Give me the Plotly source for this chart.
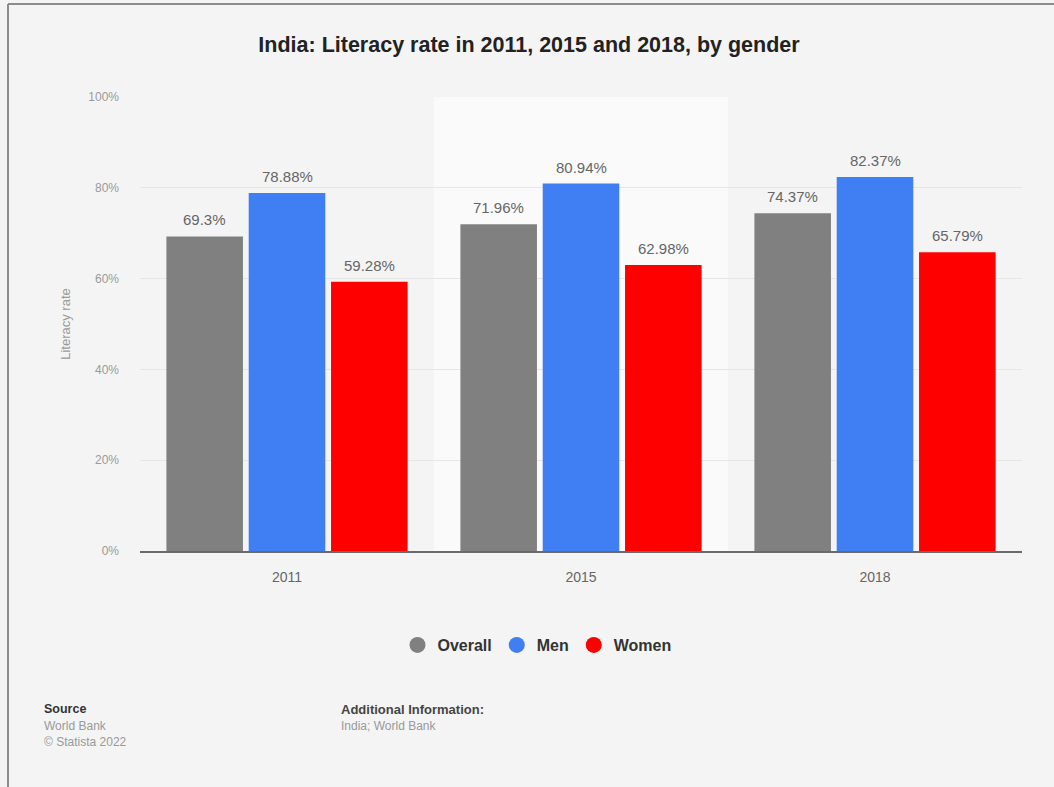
import plotly.graph_objects as go

# Literacy rate (%) in India by year and gender
years = ["2011", "2015", "2018"]
overall = [69.3, 71.96, 74.37]
men = [78.88, 80.94, 82.37]
women = [59.28, 62.98, 65.79]

series_names = ["Overall", "Men", "Women"]
series_values = [overall, men, women]
series_colors = ["#808080", "#3f7ef3", "#ff0000"]

y_ticks = [0, 20, 40, 60, 80, 100]
y_tick_text = ["0%", "20%", "40%", "60%", "80%", "100%"]

W, H = 1054, 787
ML, MR, MT, MB = 140, 32, 97, 236
PW, PH = W - ML - MR, H - MT - MB

FONT = "Liberation Sans, Arial, sans-serif"


def px_x(x):
    return (x - ML) / PW


def px_y(y):
    return (H - MB - y) / PH


BARGAP = 0.16
GROUPGAP = 0.07
slot = (1 - BARGAP) / len(series_names)

fig = go.Figure()

for name, vals, col in zip(series_names, series_values, series_colors):
    fig.add_trace(go.Bar(
        x=years, y=vals, name=name, marker=dict(color=col, line=dict(width=0)),
        showlegend=False, hoverinfo="skip",
    ))
    # circular legend entries
    fig.add_trace(go.Scatter(
        x=[None], y=[None], mode="markers", name=name,
        marker=dict(color=col, size=16, symbol="circle"),
    ))

# value labels above each bar
annotations = []
for i, vals in enumerate(series_values):
    offset = (i - 1) * slot
    for j, v in enumerate(vals):
        annotations.append(dict(
            x=j + offset, y=v, xref="x", yref="y", text=f"{v:g}%",
            showarrow=False, yanchor="bottom", yshift=6,
            font=dict(family=FONT, size=15, color="#666666"),
        ))


# footer notes
def note(text, x, y, size=12, color="#999999"):
    annotations.append(dict(
        x=px_x(x), y=px_y(y), xref="paper", yref="paper", text=text,
        showarrow=False, xanchor="left", yanchor="middle",
        font=dict(family=FONT, size=size, color=color),
    ))


note("<b>Source</b>", 42, 709, 12.5, "#333333")
note("World Bank", 42, 726)
note("© Statista 2022", 42, 742)
note("<b>Additional Information:</b>", 339, 709, 13, "#444444")
note("India; World Bank", 339, 726)

shapes = [
    # highlighted category band
    dict(type="rect", xref="x", yref="y", x0=0.5, x1=1.5, y0=0, y1=100,
         fillcolor="#fafafa", line=dict(width=0), layer="below"),
    # frame lines
    dict(type="line", xref="paper", yref="paper", x0=px_x(8), x1=px_x(8),
         y0=px_y(4), y1=px_y(H), line=dict(color="#8c8c8c", width=2)),
    dict(type="line", xref="paper", yref="paper", x0=px_x(8), x1=px_x(W),
         y0=px_y(4), y1=px_y(4), line=dict(color="#8c8c8c", width=2)),
]

fig.update_layout(
    width=W, height=H,
    margin=dict(l=ML, r=MR, t=MT, b=MB),
    paper_bgcolor="#f4f4f4", plot_bgcolor="#f4f4f4",
    barmode="group", bargap=BARGAP, bargroupgap=GROUPGAP,
    font=dict(family=FONT),
    title=dict(
        text="<b>India: Literacy rate in 2011, 2015 and 2018, by gender</b>",
        x=px_x(529), xref="paper", xanchor="center",
        y=1 - 44 / H, yanchor="middle",
        font=dict(family=FONT, size=21.5, color="#222222"),
    ),
    xaxis=dict(
        type="category", range=[-0.5, 2.5], showgrid=False,
        showline=True, linecolor="#6a6a6a", linewidth=2,
        ticks="", ticklabelstandoff=12,
        tickfont=dict(family=FONT, size=14, color="#666666"),
        fixedrange=True,
    ),
    yaxis=dict(
        range=[0, 100], tickvals=y_ticks, ticktext=y_tick_text,
        showgrid=True, gridcolor="#e6e6e6", gridwidth=1,
        zeroline=False, showline=False, ticks="",
        ticklabelstandoff=20,
        tickfont=dict(family=FONT, size=12, color="#9a9a9a"),
        title=dict(text="Literacy rate", standoff=14,
                   font=dict(family=FONT, size=13, color="#9a9a9a")),
        fixedrange=True,
    ),
    legend=dict(
        orientation="h", x=px_x(537), xanchor="center",
        y=px_y(645), yanchor="middle",
        font=dict(family=FONT, size=16, color="#333333", weight="bold"),
        bgcolor="rgba(0,0,0,0)", itemclick=False, itemdoubleclick=False,
    ),
    annotations=annotations,
    shapes=shapes,
    showlegend=True,
)

fig.write_html("out.html")
